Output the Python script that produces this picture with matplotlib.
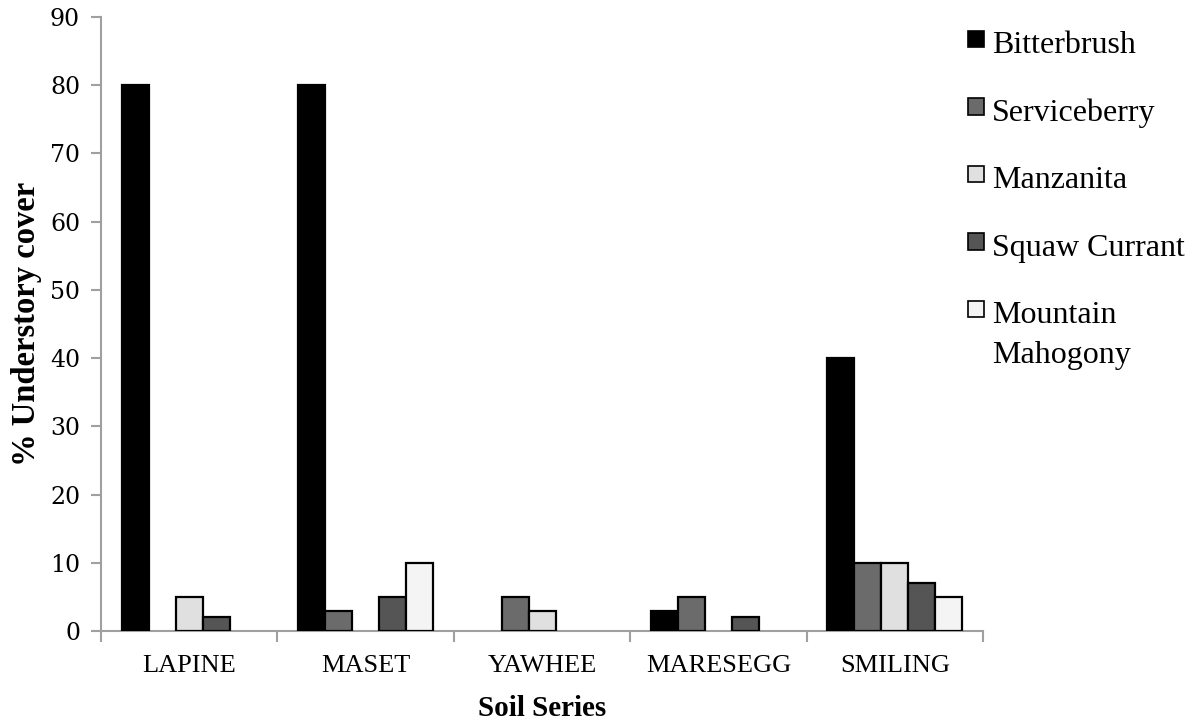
import matplotlib
matplotlib.use("Agg")
import matplotlib.pyplot as plt
import numpy as np
from matplotlib.patches import Rectangle

soils = ["LAPINE", "MASET", "YAWHEE", "MARESEGG", "SMILING"]
species = ["Bitterbrush", "Serviceberry", "Manzanita", "Squaw Currant", "Mountain\nMahogony"]
bitterbrush = [80, 80, 0, 3, 40]
serviceberry = [0, 3, 5, 5, 10]
manzanita = [5, 0, 3, 0, 10]
squaw_currant = [2, 5, 0, 2, 7]
mountain_mahogany = [0, 10, 0, 0, 5]
yticks = list(range(0, 100, 10))

series = [bitterbrush, serviceberry, manzanita, squaw_currant, mountain_mahogany]
fills = ["#000000", "#6b6b6b", "#e0e0e0", "#555555", "#f4f4f4"]

W, H = 1199, 723
fig = plt.figure(figsize=(W / 100, H / 100), dpi=100)
ax = fig.add_axes([0.0842, 0.1272, 0.7358, 0.8493])

x = np.arange(len(soils))
bw = 0.153
for i, (vals, col) in enumerate(zip(series, fills)):
    lw = [1.6 if v > 0 else 0 for v in vals]
    ax.bar(x + (i - 2) * bw, vals, width=bw, color=col,
           edgecolor="black", linewidth=lw, zorder=3)

ax.set_xlim(-0.5, len(soils) - 0.5)
ax.set_ylim(0, 90)
ax.set_yticks(yticks)
ax.set_yticklabels([str(t) for t in yticks], family="DejaVu Serif", fontsize=17)

ax.set_xticks(np.arange(len(soils) + 1) - 0.5)
ax.set_xticklabels([])
ax.set_xticks(x, minor=True)
ax.set_xticklabels(soils, minor=True, family="Liberation Serif", fontsize=19)
ax.tick_params(axis="x", which="minor", length=0, pad=17)
ax.tick_params(axis="x", which="major", length=8, width=1.5, color="#a0a0a0", direction="out")
ax.tick_params(axis="y", length=7, width=1.5, color="#a0a0a0", direction="out", pad=8)

for side in ["top", "right"]:
    ax.spines[side].set_visible(False)
for side in ["left", "bottom"]:
    ax.spines[side].set_color("#a0a0a0")
    ax.spines[side].set_linewidth(1.5)

ax.set_ylabel("% Understory cover", family="Liberation Serif", fontsize=23.5,
              fontweight="bold", labelpad=6)
ax.set_xlabel("Soil Series", family="Liberation Serif", fontsize=21,
              fontweight="bold", labelpad=13)

# Legend: swatch + label per species, laid out in figure pixels
first_baseline = 53
step = 67.5
line_gap = 40
for i, (name, col) in enumerate(zip(species, fills)):
    base = first_baseline + i * step
    fig.patches.append(Rectangle((968 / W, 1 - (base - 6) / H), 16 / W, 16 / H,
                                 transform=fig.transFigure, facecolor=col,
                                 edgecolor="black", linewidth=1.2))
    for k, line in enumerate(name.split("\n")):
        fig.text(992 / W, 1 - (base + k * line_gap) / H, line,
                 family="Liberation Serif", fontsize=23, ha="left", va="baseline")

fig.savefig("out.png", dpi=100, facecolor="white")
